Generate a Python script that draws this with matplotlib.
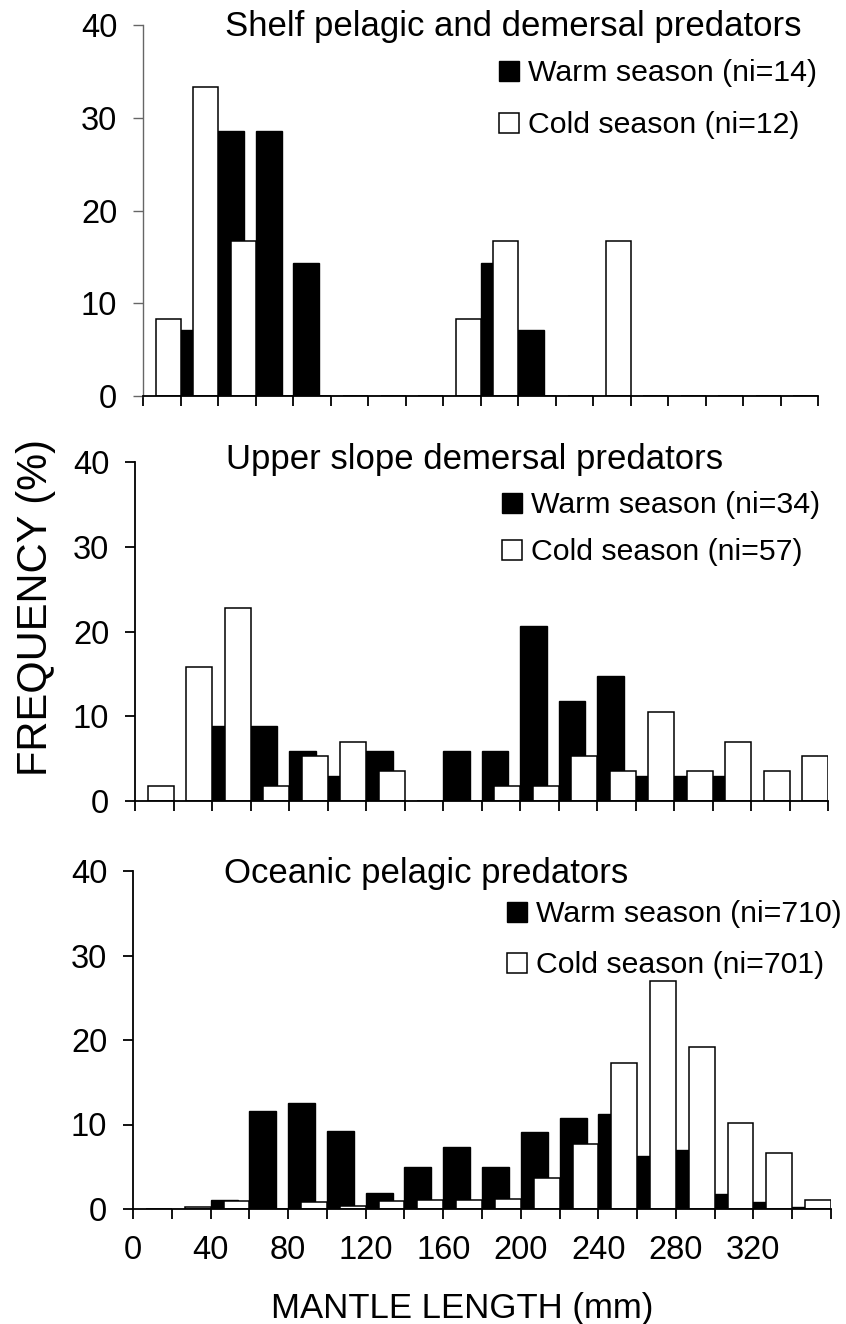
import matplotlib.pyplot as plt
from matplotlib.patches import Rectangle

plt.rcParams['font.family'] = ['Liberation Sans', 'DejaVu Sans']

W, H = 846, 1324

# upper limit of each 20 mm mantle length class
length_class = [20, 40, 60, 80, 100, 120, 140, 160, 180,
                200, 220, 240, 260, 280, 300, 320, 340, 360]

# frequencies (%) per length class
shelf_warm = [7.1, 28.6, 28.6, 14.3, 0, 0, 0, 0, 14.3,
              7.1, 0, 0, 0, 0, 0, 0, 0, 0]
shelf_cold = [8.3, 33.3, 16.7, 0, 0, 0, 0, 0, 8.3,
              16.7, 0, 0, 16.7, 0, 0, 0, 0, 0]

slope_warm = [0, 8.8, 8.8, 5.9, 2.9, 5.9, 0, 5.9, 5.9,
              20.6, 11.8, 14.7, 2.9, 2.9, 2.9, 0, 0, 0]
slope_cold = [1.8, 15.8, 22.8, 1.8, 5.3, 7.0, 3.5, 0, 0,
              1.8, 1.8, 5.3, 3.5, 10.5, 3.5, 7.0, 3.5, 5.3]

ocean_warm = [0, 1.1, 11.6, 12.6, 9.2, 1.9, 5.0, 7.3, 5.0,
              9.1, 10.8, 11.2, 6.3, 7.0, 1.8, 0.8, 0.2, 0]
ocean_cold = [0, 0.2, 0.9, 0, 0.8, 0.4, 0.9, 1.1, 1.1,
              1.2, 3.7, 7.7, 17.3, 27.0, 19.2, 10.2, 6.6, 1.1]

titles = ['Shelf pelagic and demersal predators',
          'Upper slope demersal predators',
          'Oceanic pelagic predators']
warm_labels = ['Warm season (ni=14)', 'Warm season (ni=34)', 'Warm season (ni=710)']
cold_labels = ['Cold season (ni=12)', 'Cold season (ni=57)', 'Cold season (ni=701)']

x_ticks = list(range(0, 361, 20))
x_labels = [str(v) if v % 40 == 0 and v < 360 else '' for v in x_ticks]

# panel boxes in pixels: left, right, top, bottom
boxes = [(143, 818, 25, 396), (135, 828, 462, 801), (133, 831, 871, 1209)]
title_pos = [(225, 36), (226, 469), (224, 883)]
legend_pos = [(499, 61, 113), (502, 493, 540), (507, 902, 953)]


def fx(x):
    return x / W


def fy(y):
    return 1 - y / H


fig = plt.figure(figsize=(W / 100, H / 100), dpi=100)

series = [(shelf_warm, shelf_cold), (slope_warm, slope_cold), (ocean_warm, ocean_cold)]

for i, (warm, cold) in enumerate(series):
    l, r, t, b = boxes[i]
    ax = fig.add_axes([fx(l), fy(b), (r - l) / W, (b - t) / H])

    ax.bar(length_class, warm, width=13.9, align='edge',
           color='black', edgecolor='black', linewidth=1.0, zorder=2)
    ax.bar(length_class, cold, width=-13.3, align='edge',
           color='white', edgecolor='black', linewidth=1.1, zorder=3)

    ax.set_xlim(0, 360)
    ax.set_ylim(0, 40)
    ax.set_yticks([0, 10, 20, 30, 40])
    ax.set_xticks(x_ticks)
    if i == 2:
        ax.set_xticklabels(x_labels)
    else:
        ax.set_xticklabels([])

    for side in ['top', 'right']:
        ax.spines[side].set_visible(False)
    for side in ['left', 'bottom']:
        ax.spines[side].set_linewidth(1.3)
        ax.spines[side].set_zorder(4)
    ax.tick_params(axis='both', direction='out', length=7.5, width=1.3,
                   labelsize=23.5, colors='black')
    ax.tick_params(axis='y', pad=11)
    ax.tick_params(axis='x', pad=11)
    if i == 0:
        ax.spines['left'].set_color('#666666')
        ax.spines['left'].set_linewidth(1.0)
        ax.tick_params(axis='y', color='#666666', width=1.0)

    # panel heading
    tx, ty = title_pos[i]
    fig.text(fx(tx), fy(ty), titles[i], fontsize=25, ha='left', va='baseline')

    # legend keys
    lx, y1, y2 = legend_pos[i]
    sq = 20
    fig.add_artist(Rectangle((fx(lx), fy(y1 + sq)), sq / W, sq / H,
                             transform=fig.transFigure, facecolor='black',
                             edgecolor='black', linewidth=1.0))
    fig.add_artist(Rectangle((fx(lx), fy(y2 + sq)), sq / W, sq / H,
                             transform=fig.transFigure, facecolor='white',
                             edgecolor='black', linewidth=1.1))
    fig.text(fx(lx + 29), fy(y1 + sq), warm_labels[i], fontsize=21.8,
             ha='left', va='baseline')
    fig.text(fx(lx + 29), fy(y2 + sq), cold_labels[i], fontsize=21.8,
             ha='left', va='baseline')

fig.text(fx(36), fy(608), 'FREQUENCY (%)', fontsize=30, rotation=90,
         ha='center', va='center')
fig.text(fx(462), fy(1318), 'MANTLE LENGTH (mm)', fontsize=25,
         ha='center', va='baseline')

fig.savefig('out.png', dpi=100)
